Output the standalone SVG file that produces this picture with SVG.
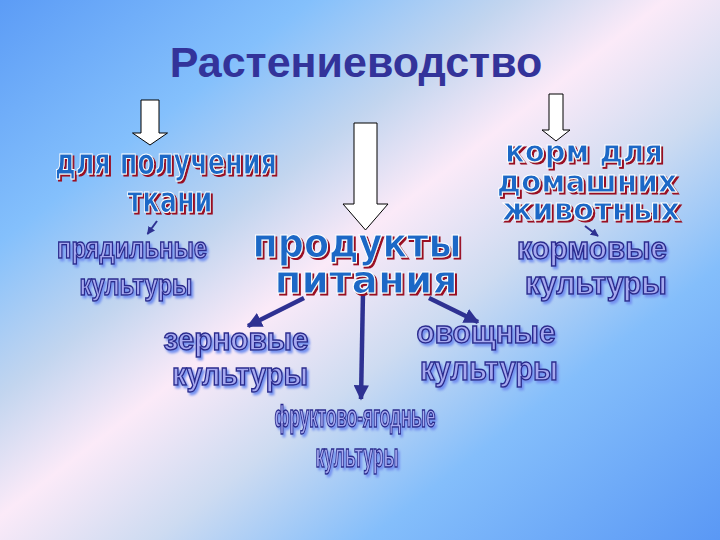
<svg xmlns="http://www.w3.org/2000/svg" width="720" height="540" viewBox="0 0 720 540">
<defs>
<linearGradient id="bg" gradientUnits="userSpaceOnUse" x1="0" y1="0" x2="532" y2="686">
<stop offset="0" stop-color="#5c9cf6"/>
<stop offset="0.22" stop-color="#84c0fc"/>
<stop offset="0.36" stop-color="#c2d5ef"/>
<stop offset="0.47" stop-color="#fbeaf8"/>
<stop offset="0.6" stop-color="#cddbf1"/>
<stop offset="0.75" stop-color="#84befb"/>
<stop offset="1" stop-color="#5a98f5"/>
</linearGradient>
<filter id="redsh" x="-5%" y="-20%" width="115%" height="150%">
<feDropShadow dx="2" dy="2" stdDeviation="0.3" flood-color="#9a0f24" flood-opacity="1"/>
</filter>
<filter id="bluesh" x="-5%" y="-20%" width="115%" height="150%">
<feDropShadow dx="2" dy="2.5" stdDeviation="1.3" flood-color="#7390f0" flood-opacity="1"/>
</filter>
<marker id="ah" viewBox="0 0 10 10" refX="9" refY="5" markerWidth="3.4" markerHeight="3.4" orient="auto" markerUnits="strokeWidth">
<path d="M0,0 L10,5 L0,10 z" fill="#2e3192"/>
</marker>
<marker id="ahs" viewBox="0 0 10 10" refX="9" refY="5" markerWidth="4" markerHeight="4" orient="auto" markerUnits="strokeWidth">
<path d="M0,0 L10,5 L0,10 z" fill="#2e3192"/>
</marker>
<style>
.title{font-family:"Liberation Sans",Arial,sans-serif;font-weight:bold;text-anchor:middle;fill:#33339a;font-size:43px}
.b{font-family:"DejaVu Sans","Liberation Sans",sans-serif;font-weight:bold;text-anchor:middle;fill:#1a68c6;stroke:#ffffff;stroke-width:1.1;filter:url(#redsh)}
.l{font-family:"Liberation Sans",Arial,sans-serif;font-weight:bold;text-anchor:middle;fill:#a6a9ef;stroke:#2c2c8e;stroke-width:1.5;filter:url(#bluesh)}
.blk{fill:#ffffff;stroke:#000000;stroke-width:1}
.con{stroke:#2e3192;fill:none}
</style>
</defs>
<rect x="0" y="0" width="720" height="540" fill="url(#bg)"/>
<g id="title">
<text class="title" x="356" y="77">Растениеводство</text>
</g>
<g id="block-arrows">
<polygon class="blk" points="141,100 159,100 159,133 167.5,133 150,145 132.5,133 141,133"/>
<polygon class="blk" points="354,123 377,123 377,204 388,204 365.5,230 343,204 354,204"/>
<polygon class="blk" points="549,94 563,94 563,130 570,130 556,141 542,130 549,130"/>
</g>
<g id="connectors">
<line class="con" x1="157" y1="221" x2="147.5" y2="234" stroke-width="2" marker-end="url(#ahs)"/>
<line class="con" x1="585" y1="226" x2="598" y2="236" stroke-width="2" marker-end="url(#ahs)"/>
<line class="con" x1="304" y1="298" x2="248" y2="326" stroke-width="4.5" marker-end="url(#ah)"/>
<line class="con" x1="363" y1="292" x2="361" y2="399" stroke-width="4.5" marker-end="url(#ah)"/>
<line class="con" x1="429" y1="298" x2="478" y2="322" stroke-width="4.5" marker-end="url(#ah)"/>
</g>
<g id="node-tkani">
<text class="b" x="166" y="174" font-size="35" textLength="222" lengthAdjust="spacingAndGlyphs">для получения</text>
<text class="b" x="170" y="212" font-size="36" textLength="85" lengthAdjust="spacingAndGlyphs">ткани</text>
</g>
<g id="node-korm">
<text class="b" x="584" y="162" font-size="30" textLength="158" lengthAdjust="spacingAndGlyphs">корм для</text>
<text class="b" x="587" y="192" font-size="31" textLength="180" lengthAdjust="spacingAndGlyphs">домашних</text>
<text class="b" x="591" y="220" font-size="31" textLength="178" lengthAdjust="spacingAndGlyphs">животных</text>
</g>
<g id="node-produkty">
<text class="b" x="357" y="257" font-size="40" textLength="209" lengthAdjust="spacingAndGlyphs">продукты</text>
<text class="b" x="366" y="293" font-size="39" textLength="183" lengthAdjust="spacingAndGlyphs">питания</text>
</g>
<g id="node-pryadilnye">
<text class="l" x="132" y="258" font-size="29" textLength="150" lengthAdjust="spacingAndGlyphs">прядильные</text>
<text class="l" x="136" y="295" font-size="30" textLength="113" lengthAdjust="spacingAndGlyphs">культуры</text>
</g>
<g id="node-kormovye">
<text class="l" x="592" y="259" font-size="31" textLength="150" lengthAdjust="spacingAndGlyphs">кормовые</text>
<text class="l" x="596" y="294" font-size="31" textLength="142" lengthAdjust="spacingAndGlyphs">культуры</text>
</g>
<g id="node-zernovye">
<text class="l" x="236" y="350" font-size="32" textLength="145" lengthAdjust="spacingAndGlyphs">зерновые</text>
<text class="l" x="240" y="385" font-size="32" textLength="136" lengthAdjust="spacingAndGlyphs">культуры</text>
</g>
<g id="node-ovoshchnye">
<text class="l" x="486" y="343" font-size="31" textLength="139" lengthAdjust="spacingAndGlyphs">овощные</text>
<text class="l" x="489" y="380" font-size="33" textLength="138" lengthAdjust="spacingAndGlyphs">культуры</text>
</g>
<g id="node-fruktovo">
<text class="l" x="355" y="427" font-size="31" textLength="161" lengthAdjust="spacingAndGlyphs">фруктово-ягодные</text>
<text class="l" x="357" y="467" font-size="34" textLength="83" lengthAdjust="spacingAndGlyphs">культуры</text>
</g>
</svg>
